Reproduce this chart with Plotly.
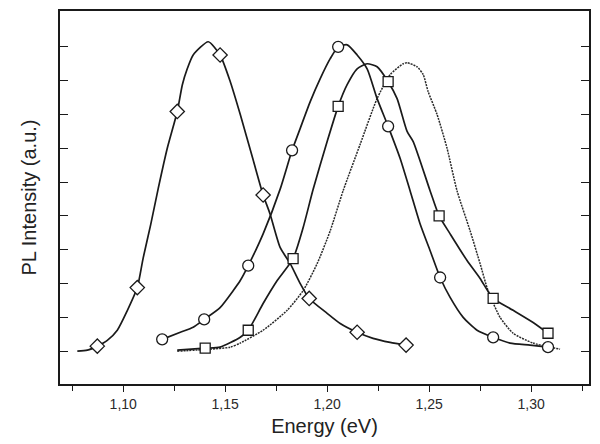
import plotly.graph_objects as go

# ---- data (Energy in eV, PL intensity in a.u.) ----
dia_x = [1.0775, 1.0824, 1.0873, 1.0922, 1.0971, 1.1020, 1.1069, 1.1098, 1.1135,
         1.1172, 1.1216, 1.1265, 1.1290, 1.1314, 1.1343, 1.1417, 1.1475, 1.1525, 1.1574,
         1.1637, 1.1686, 1.1720, 1.1770, 1.1819, 1.1868, 1.1912, 1.2000, 1.2064, 1.2147,
         1.2225, 1.2309, 1.2387]
dia_y = [0.00, 0.03, 0.15, 0.32, 0.62, 1.20, 1.88, 2.76, 3.75,
         4.82, 6.00, 7.09, 7.88, 8.35, 8.76, 9.15, 8.76, 7.97, 7.00,
         5.66, 4.62, 4.06, 3.06, 2.59, 2.00, 1.56, 1.12, 0.82, 0.56,
         0.38, 0.26, 0.18]
dia_mx = [1.0873, 1.1069, 1.1265, 1.1475, 1.1686, 1.1912, 1.2147, 1.2387]
dia_my = [0.15, 1.88, 7.09, 8.76, 4.62, 1.56, 0.56, 0.18]

cir_x = [1.1191, 1.1280, 1.1343, 1.1397, 1.1475, 1.1539, 1.1574, 1.1613, 1.1686, 1.1770,
         1.1828, 1.1868, 1.1917, 1.1966, 1.2015, 1.2054, 1.2098, 1.2147, 1.2196, 1.2245,
         1.2299, 1.2358, 1.2407, 1.2456, 1.2505, 1.2554, 1.2603, 1.2667, 1.2735, 1.2814,
         1.2897, 1.2995, 1.3083]
cir_y = [0.35, 0.56, 0.71, 0.94, 1.29, 1.79, 2.09, 2.53, 3.47, 4.80,
         5.94, 6.59, 7.38, 8.06, 8.65, 9.00, 9.06, 8.76, 8.35, 7.47,
         6.65, 5.70, 4.74, 3.76, 2.97, 2.18, 1.59, 1.00, 0.62, 0.41,
         0.24, 0.18, 0.12]
cir_mx = [1.1191, 1.1397, 1.1613, 1.1828, 1.2054, 1.2299, 1.2554, 1.2814, 1.3083]
cir_my = [0.35, 0.94, 2.53, 5.94, 9.00, 6.65, 2.18, 0.41, 0.12]

sq_x = [1.1265, 1.1402, 1.1475, 1.1574, 1.1613, 1.1686, 1.1755, 1.1833, 1.1882, 1.1931,
        1.2000, 1.2054, 1.2098, 1.2147, 1.2196, 1.2245, 1.2299, 1.2343, 1.2392, 1.2422,
        1.2505, 1.2549, 1.2603, 1.2686, 1.2750, 1.2814, 1.2912, 1.3010, 1.3083]
sq_y = [0.03, 0.09, 0.12, 0.41, 0.62, 1.41, 2.09, 2.74, 3.65, 4.78,
        6.20, 7.24, 7.88, 8.35, 8.50, 8.41, 7.97, 7.47, 6.50, 6.20,
        4.74, 4.00, 3.47, 2.68, 2.15, 1.56, 1.21, 0.85, 0.53]
sq_mx = [1.1402, 1.1613, 1.1833, 1.2054, 1.2299, 1.2549, 1.2814, 1.3083]
sq_my = [0.09, 0.62, 2.74, 7.24, 7.97, 4.00, 1.56, 0.53]

dot_x = [1.1265, 1.1426, 1.1525, 1.1574, 1.1686, 1.1804, 1.1882, 1.1951, 1.2015, 1.2078,
         1.2162, 1.2245, 1.2309, 1.2373, 1.2392, 1.2441, 1.2471, 1.2495, 1.2539, 1.2588,
         1.2637, 1.2701, 1.2750, 1.2789, 1.2848, 1.2912, 1.3010, 1.3142]
dot_y = [0.00, 0.06, 0.12, 0.24, 0.62, 1.21, 1.79, 2.59, 3.56, 4.74,
         6.12, 7.47, 8.18, 8.50, 8.53, 8.41, 8.18, 7.68, 7.00, 6.00,
         4.74, 3.56, 2.59, 1.79, 1.00, 0.53, 0.24, 0.06]

x_tick_vals = [1.10, 1.15, 1.20, 1.25, 1.30]
x_tick_text = ["1,10", "1,15", "1,20", "1,25", "1,30"]
x_minor_vals = [1.075, 1.125, 1.175, 1.225, 1.275, 1.325]
y_tick_vals = [0, 1, 2, 3, 4, 5, 6, 7, 8, 9]

FONT = "Liberation Sans, Arial, sans-serif"
INK = "#1a1a1a"

fig = go.Figure()

def add_curve(x, y, width=1.7, dash="solid", color=INK):
    fig.add_trace(go.Scatter(x=x, y=y, mode="lines",
                             line=dict(color=color, width=width, dash=dash,
                                       shape="spline", smoothing=0.6),
                             showlegend=False, hoverinfo="skip"))

def add_markers(x, y, symbol, size):
    fig.add_trace(go.Scatter(x=x, y=y, mode="markers",
                             marker=dict(symbol=symbol, size=size, color="white",
                                         line=dict(color=INK, width=1.3)),
                             showlegend=False, hoverinfo="skip"))

add_curve(dot_x, dot_y, width=1.5, dash="2px,1px", color="#2a2a2a")
add_curve(dia_x, dia_y)
add_curve(cir_x, cir_y)
add_curve(sq_x, sq_y)
add_markers(dia_mx, dia_my, "diamond", 11)
add_markers(cir_mx, cir_my, "circle", 11)
add_markers(sq_mx, sq_my, "square", 10)

fig.update_layout(
    width=600, height=444,
    margin=dict(l=60, r=11, t=9, b=60),
    paper_bgcolor="white", plot_bgcolor="white",
    font=dict(family=FONT, color=INK),
    separators=",.",
)
fig.update_xaxes(
    range=[1.069, 1.3284],
    tickvals=x_tick_vals, ticktext=x_tick_text,
    ticks="outside", ticklen=6, tickwidth=1.2, tickcolor=INK,
    minor=dict(tickvals=x_minor_vals, ticks="outside", ticklen=5,
               tickwidth=1.2, tickcolor=INK),
    tickfont=dict(size=14, color="#2a2a2a"),
    showline=True, linecolor=INK, linewidth=1.5, mirror=True,
    showgrid=False, zeroline=False,
    title=dict(text="Energy (eV)", font=dict(size=20, color="#222222"), standoff=8),
)
fig.update_yaxes(
    range=[-0.97, 10.06],
    tickvals=y_tick_vals, showticklabels=False,
    ticks="inside", ticklen=8, tickwidth=1.2, tickcolor=INK,
    showline=True, linecolor=INK, linewidth=1.5, mirror="ticks",
    showgrid=False, zeroline=False,
    title=dict(text="PL Intensity (a.u.)", font=dict(size=20, color="#222222"), standoff=16),
)

fig.write_html("out.html")
